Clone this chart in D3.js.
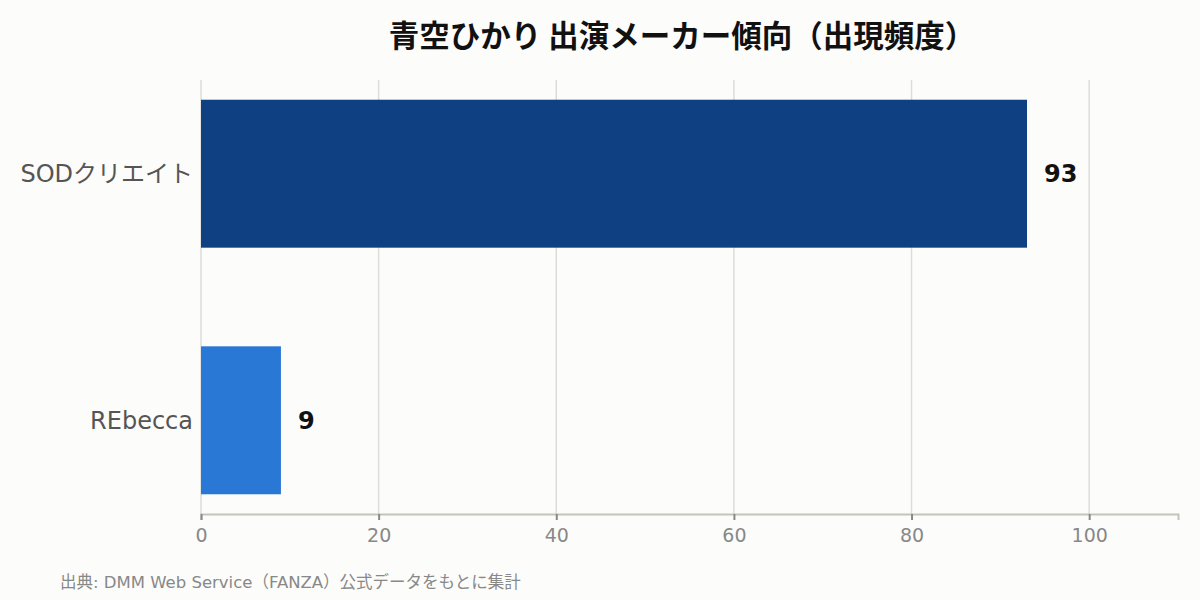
<!DOCTYPE html>
<html>
<head>
<meta charset="utf-8">
<script src="https://cdn.jsdelivr.net/npm/d3@7"></script>
<style>
  body { margin: 0; background: #fcfcfa; }
  svg { display: block; }
</style>
</head>
<body>
<div id="chart"></div>
<script>
const makers = ['SODクリエイト', 'REbecca'];
const counts = [93, 9];
const barColors = ['#0f4182', '#2a78d6'];
const xTicks = [0, 20, 40, 60, 80, 100];
const titleText = '青空ひかり 出演メーカー傾向（出現頻度）';
const sourceText = '出典: DMM Web Service（FANZA）公式データをもとに集計';

const width = 1200, height = 600;
const margin = { top: 80, right: 22, bottom: 86, left: 201 };
const font = '"DejaVu Sans", "Noto Sans CJK JP", sans-serif';

const svg = d3.select('#chart')
    .append('svg')
    .attr('width', width)
    .attr('height', height)
    .style('background', '#fcfcfa');

const x = d3.scaleLinear()
    .domain([0, 110])
    .range([margin.left, width - margin.right]);

const y = d3.scaleBand()
    .domain(makers)
    .range([margin.top, height - margin.bottom])
    .paddingInner(0.4)
    .paddingOuter(0.08);

// grid lines
svg.append('g')
    .selectAll('line')
    .data(xTicks)
    .enter()
    .append('line')
    .attr('x1', d => x(d))
    .attr('x2', d => x(d))
    .attr('y1', margin.top)
    .attr('y2', height - margin.bottom)
    .attr('stroke', '#dcdcd8')
    .attr('stroke-width', 1.5);

// bars
svg.append('g')
    .selectAll('rect')
    .data(makers)
    .enter()
    .append('rect')
    .attr('x', x(0))
    .attr('y', d => y(d))
    .attr('width', (d, i) => x(counts[i]) - x(0))
    .attr('height', y.bandwidth())
    .attr('fill', (d, i) => barColors[i]);

// value labels
svg.append('g')
    .selectAll('text')
    .data(makers)
    .enter()
    .append('text')
    .attr('x', (d, i) => x(counts[i]) + 17)
    .attr('y', d => y(d) + y.bandwidth() / 2)
    .attr('dy', '0.35em')
    .style('font-family', font)
    .style('font-size', '24px')
    .style('font-weight', 'bold')
    .style('fill', '#111')
    .text((d, i) => counts[i]);

// category labels
svg.append('g')
    .selectAll('text')
    .data(makers)
    .enter()
    .append('text')
    .attr('x', margin.left - 8)
    .attr('y', d => y(d) + y.bandwidth() / 2)
    .attr('dy', '0.35em')
    .attr('text-anchor', 'end')
    .style('font-family', font)
    .style('font-size', '24px')
    .style('fill', '#555')
    .text(d => d);

// x axis
const xAxis = svg.append('g')
    .attr('transform', `translate(0, ${height - margin.bottom})`)
    .call(d3.axisBottom(x).tickValues(xTicks).tickSize(6).tickPadding(9));

xAxis.select('.domain')
    .attr('stroke', '#c4c4bc')
    .attr('stroke-width', 2);
xAxis.selectAll('.tick line')
    .attr('stroke', '#888')
    .attr('stroke-width', 2);
xAxis.selectAll('.tick text')
    .style('font-family', font)
    .style('font-size', '19px')
    .style('fill', '#888');

// title
svg.append('text')
    .attr('x', 682)
    .attr('y', 47)
    .attr('text-anchor', 'middle')
    .style('font-family', '"Noto Sans CJK JP", sans-serif')
    .style('font-size', '30.5px')
    .style('font-weight', 'bold')
    .style('fill', '#111')
    .text(titleText);

// source note
svg.append('text')
    .attr('x', 60)
    .attr('y', 588)
    .style('font-family', font)
    .style('font-size', '16.5px')
    .style('fill', '#888')
    .text(sourceText);
</script>
</body>
</html>
